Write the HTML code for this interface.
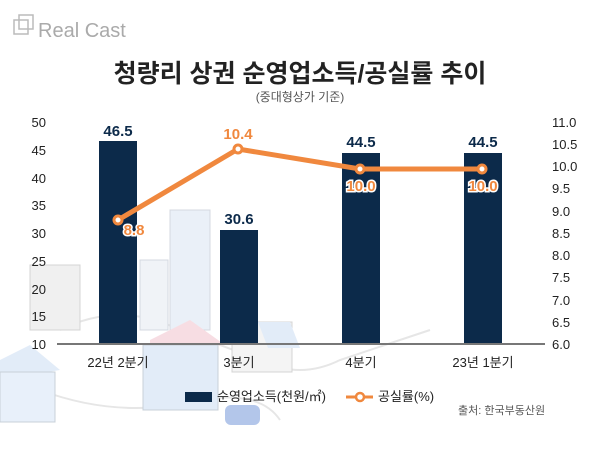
<!DOCTYPE html>
<html><head><meta charset="utf-8"><style>
body{margin:0;background:#fff;}
svg{display:block;font-family:"Liberation Sans","Noto Sans CJK KR",sans-serif;}
</style></head><body>
<svg width="600" height="462" viewBox="0 0 600 462">
<g fill="none" stroke="#e6e6e6" stroke-width="2">
<path d="M60 330 Q120 300 180 330 L260 360 Q300 380 340 360 L430 330"/>
<path d="M40 390 Q120 420 200 400 Q260 390 280 420"/>
</g>
<rect x="170" y="210" width="40" height="120" fill="#eaf0f8" stroke="#d4d8e0"/>
<rect x="140" y="260" width="28" height="70" fill="#f0f3f7" stroke="#d4d8e0"/>
<rect x="30" y="265" width="50" height="65" fill="#f0f0f0" stroke="#d4d4d4"/>
<polygon points="150,340 190,320 225,345 150,350" fill="#f7dde3"/>
<rect x="143" y="345" width="75" height="65" fill="#e2ecf8" stroke="#c8d0d8"/>
<polygon points="0,360 30,345 60,370 0,380" fill="#e2ecf8"/>
<rect x="0" y="372" width="55" height="50" fill="#e8f0fa" stroke="#c8d0d8"/>
<rect x="232" y="322" width="60" height="50" fill="#f4f4f4" stroke="#d4d4d4"/>
<polygon points="258,322 290,322 300,348 268,348" fill="#e2ecf8"/>
<rect x="225" y="405" width="35" height="20" rx="6" fill="#b3c6ea"/>
<rect x="14" y="20" width="14" height="14" fill="none" stroke="#bbb" stroke-width="1.5"/>
<rect x="19" y="15" width="14" height="14" fill="none" stroke="#bbb" stroke-width="1.5"/>
<text x="38" y="37" font-size="20" fill="#aaa">Real Cast</text>
<text x="300" y="82" text-anchor="middle" font-size="25" font-weight="bold" fill="#222">청량리 상권 순영업소득/공실률 추이</text>
<text x="300" y="101" text-anchor="middle" font-size="12" fill="#555">(중대형상가 기준)</text>
<g font-size="13" fill="#222" text-anchor="end">
<text x="46" y="127">50</text><text x="46" y="155">45</text><text x="46" y="183">40</text><text x="46" y="210">35</text><text x="46" y="238">30</text><text x="46" y="266">25</text><text x="46" y="294">20</text><text x="46" y="321">15</text><text x="46" y="349">10</text>
</g>
<g font-size="13" fill="#222" text-anchor="start">
<text x="552" y="127">11.0</text><text x="552" y="149">10.5</text><text x="552" y="171">10.0</text><text x="552" y="193">9.5</text><text x="552" y="216">9.0</text><text x="552" y="238">8.5</text><text x="552" y="260">8.0</text><text x="552" y="282">7.5</text><text x="552" y="305">7.0</text><text x="552" y="327">6.5</text><text x="552" y="349">6.0</text>
</g>
<g fill="#0c2a4a">
<rect x="99" y="141" width="38" height="203"/>
<rect x="220" y="230" width="38" height="114"/>
<rect x="342" y="153" width="38" height="191"/>
<rect x="464" y="153" width="38" height="191"/>
</g>
<line x1="57" y1="344" x2="545" y2="344" stroke="#777" stroke-width="2"/>
<g font-size="15" font-weight="bold" fill="#0c2a4a" text-anchor="middle">
<text x="118" y="136">46.5</text><text x="239" y="224">30.6</text><text x="361" y="147">44.5</text><text x="483" y="147">44.5</text>
</g>
<polyline points="118,220 238,149 360,169 482,169" fill="none" stroke="#f0883e" stroke-width="5"/>
<g fill="#fff" stroke="#f0883e" stroke-width="3">
<circle cx="118" cy="220" r="4"/><circle cx="238" cy="149" r="4"/><circle cx="360" cy="169" r="4"/><circle cx="482" cy="169" r="4"/>
</g>
<g font-size="15" font-weight="bold" fill="#f0883e" stroke="#fff" stroke-width="3" paint-order="stroke" text-anchor="middle">
<text x="134" y="235">8.8</text><text x="238" y="139">10.4</text><text x="361" y="191">10.0</text><text x="483" y="191">10.0</text>
</g>
<g font-size="13" fill="#222" text-anchor="middle">
<text x="118" y="367">22년 2분기</text><text x="239" y="367">3분기</text><text x="361" y="367">4분기</text><text x="483" y="367">23년 1분기</text>
</g>
<rect x="185" y="392" width="27" height="10" fill="#0c2a4a"/>
<text x="217" y="401" font-size="13" fill="#222">순영업소득(천원/㎡)</text>
<line x1="346" y1="397" x2="373" y2="397" stroke="#f0883e" stroke-width="3"/>
<circle cx="360" cy="397" r="4" fill="#fff" stroke="#f0883e" stroke-width="2.5"/>
<text x="378" y="401" font-size="13" fill="#222">공실률(%)</text>
<text x="458" y="414" font-size="11" fill="#555">출처: 한국부동산원</text>
</svg>
</body></html>
